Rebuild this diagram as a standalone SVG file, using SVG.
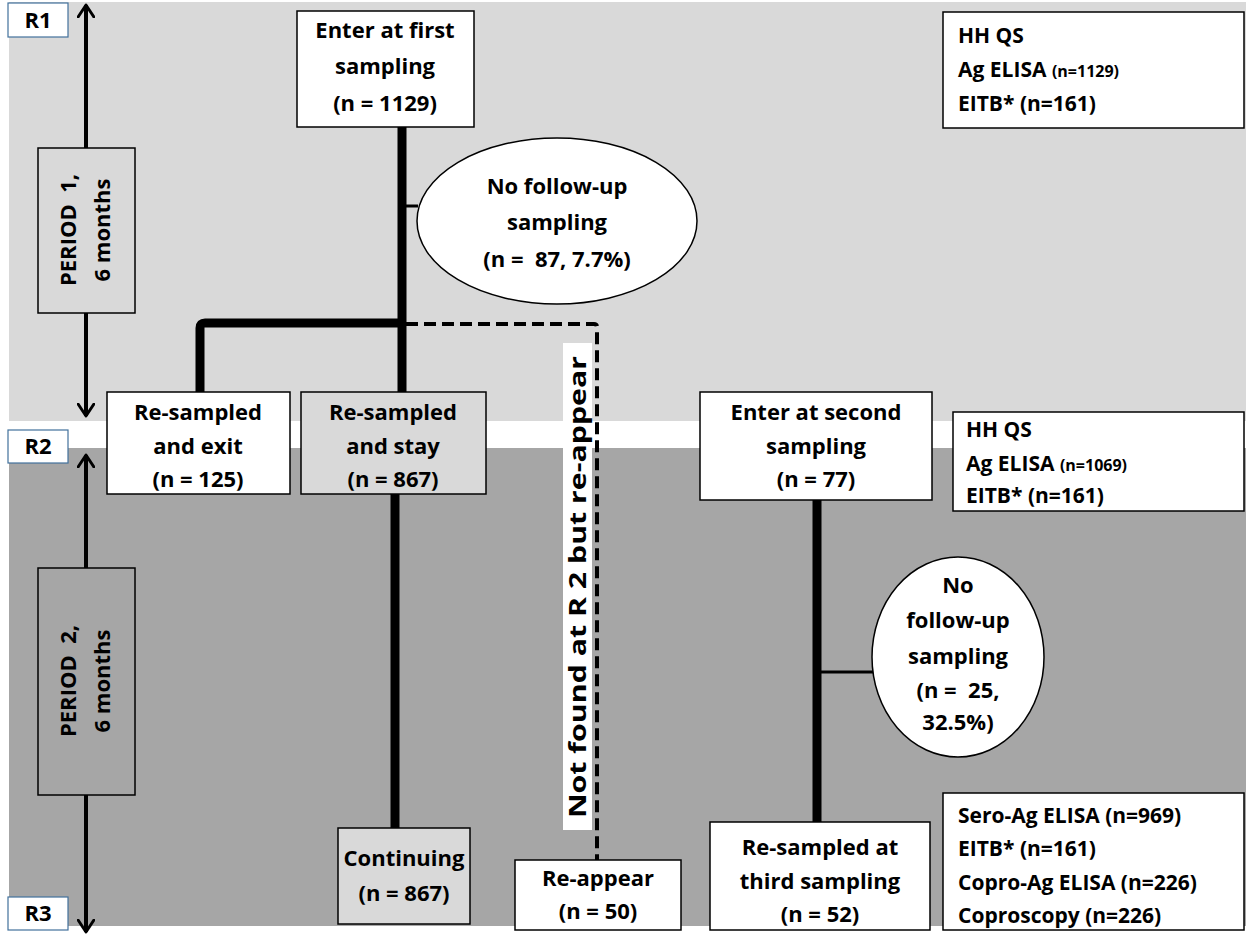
<svg xmlns="http://www.w3.org/2000/svg" width="1250" height="936" viewBox="0 0 1250 936">
<defs>
<marker id="chev" viewBox="0 0 12 14" refX="10" refY="7" markerWidth="4" markerHeight="4.6" orient="auto-start-reverse" markerUnits="strokeWidth">
<path d="M1,1 L10,7 L1,13" fill="none" stroke="#000" stroke-width="2.2" stroke-linecap="round" stroke-linejoin="round"/>
</marker>
</defs>
<style>
text{font-family:"Open Sans","Liberation Sans",sans-serif;font-weight:bold;fill:#000;}
.n{font-size:22px;text-anchor:middle;}
.i{font-size:21px;}
.s{font-size:16px;}
.box{stroke:#000;stroke-width:1.5;}
.w{fill:#fff;}
.lg{fill:#d9d9d9;}
.dg{fill:#a6a6a6;}
.rb{fill:#fff;stroke:#41719c;stroke-width:1.2;}
.thick{stroke:#000;stroke-width:9;fill:none;}
.thin{stroke:#000;stroke-width:3;fill:none;}
.ax{stroke:#000;stroke-width:4;fill:none;}
</style>
<rect x="0" y="0" width="1250" height="936" fill="#fff"/>
<rect x="9" y="2" width="1237" height="419" fill="#d9d9d9"/>
<rect x="9" y="448" width="1237" height="478" fill="#a6a6a6"/>

<g id="connectors">
<line class="ax" x1="86" y1="5" x2="86" y2="416" marker-start="url(#chev)" marker-end="url(#chev)"/>
<line class="ax" x1="86" y1="455" x2="86" y2="932" marker-start="url(#chev)" marker-end="url(#chev)"/>
<line class="thick" x1="402" y1="127" x2="402" y2="392"/>
<line class="thin" x1="402" y1="206" x2="418" y2="206"/>
<path class="thick" d="M200,392 V328 Q200,323 205,323 H406"/>
<path d="M406,324 H594 Q597,324 597,327 V860" fill="none" stroke="#000" stroke-width="4" stroke-dasharray="12,6"/>
<line class="thick" x1="395" y1="494" x2="395" y2="828"/>
<line class="thick" x1="817" y1="500" x2="817" y2="822"/>
<line class="thin" x1="817" y1="672" x2="874" y2="672"/>
</g>

<g id="R1"><rect class="rb" x="8" y="3" width="60" height="34"/><text x="38" y="28" class="n">R1</text></g>
<g id="R2"><rect class="rb" x="8" y="430" width="60" height="33"/><text x="38" y="454" class="n">R2</text></g>
<g id="R3"><rect class="rb" x="8" y="897" width="60" height="33"/><text x="38" y="921" class="n">R3</text></g>

<g id="period1"><rect class="box lg" x="38" y="148" width="97" height="165"/>
<text class="n" transform="translate(76,230) rotate(-90)" x="0" y="0" xml:space="preserve">PERIOD  1,</text>
<text class="n" transform="translate(110,230) rotate(-90)" x="0" y="0">6 months</text></g>

<g id="period2"><rect class="box dg" x="38" y="568" width="97" height="227"/>
<text class="n" transform="translate(76,681) rotate(-90)" x="0" y="0" xml:space="preserve">PERIOD  2,</text>
<text class="n" transform="translate(110,681) rotate(-90)" x="0" y="0">6 months</text></g>

<g id="enter1"><rect class="box w" x="297" y="11" width="177" height="116"/>
<text class="n" x="385" y="38">Enter at first</text>
<text class="n" x="385" y="74">sampling</text>
<text class="n" x="385" y="111">(n = 1129)</text></g>

<g id="nofollow1"><ellipse cx="557" cy="221" rx="140" ry="83" fill="#fff" stroke="#000" stroke-width="1.5"/>
<text class="n" x="557" y="194">No follow-up</text>
<text class="n" x="557" y="230">sampling</text>
<text class="n" x="557" y="267" xml:space="preserve">(n =  87, 7.7%)</text></g>

<g id="exit"><rect class="box w" x="107" y="392" width="183" height="102"/>
<text class="n" x="198" y="420">Re-sampled</text>
<text class="n" x="198" y="454">and exit</text>
<text class="n" x="198" y="487">(n = 125)</text></g>

<g id="stay"><rect class="box lg" x="301" y="392" width="185" height="102"/>
<text class="n" x="393" y="420">Re-sampled</text>
<text class="n" x="393" y="454">and stay</text>
<text class="n" x="393" y="487">(n = 867)</text></g>

<g id="notfound"><rect x="563" y="343" width="29" height="487" fill="#fff"/>
<text transform="translate(586,587) rotate(-90)" x="0" y="0" font-size="23" text-anchor="middle" textLength="462" lengthAdjust="spacingAndGlyphs">Not found at R 2 but re-appear</text></g>

<g id="continuing"><rect class="box lg" x="338" y="828" width="132" height="96"/>
<text class="n" x="404" y="866">Continuing</text>
<text class="n" x="404" y="901">(n = 867)</text></g>

<g id="reappear"><rect class="box w" x="515" y="860" width="166" height="70"/>
<text class="n" x="598" y="886">Re-appear</text>
<text class="n" x="598" y="919">(n = 50)</text></g>

<g id="enter2"><rect class="box w" x="700" y="392" width="232" height="108"/>
<text class="n" x="816" y="420">Enter at second</text>
<text class="n" x="816" y="454">sampling</text>
<text class="n" x="816" y="487">(n = 77)</text></g>

<g id="nofollow2"><ellipse cx="958" cy="657" rx="86" ry="100" fill="#fff" stroke="#000" stroke-width="1.5"/>
<text class="n" x="958" y="593">No</text>
<text class="n" x="958" y="628">follow-up</text>
<text class="n" x="958" y="664">sampling</text>
<text class="n" x="958" y="698" xml:space="preserve">(n =  25,</text>
<text class="n" x="958" y="730">32.5%)</text></g>

<g id="third"><rect class="box w" x="710" y="822" width="220" height="108"/>
<text class="n" x="820" y="855">Re-sampled at</text>
<text class="n" x="820" y="889">third sampling</text>
<text class="n" x="820" y="922">(n = 52)</text></g>

<g id="info1"><rect class="box w" x="943" y="12" width="301" height="116"/>
<text class="i" x="958" y="43">HH QS</text>
<text class="i" x="958" y="77">Ag ELISA <tspan class="s">(n=1129)</tspan></text>
<text class="i" x="958" y="111">EITB* (n=161)</text></g>

<g id="info2"><rect class="box w" x="953" y="412" width="291" height="99"/>
<text class="i" x="966" y="437">HH QS</text>
<text class="i" x="966" y="471">Ag ELISA <tspan class="s">(n=1069)</tspan></text>
<text class="i" x="966" y="503">EITB* (n=161)</text></g>

<g id="info3"><rect class="box w" x="943" y="793" width="301" height="137"/>
<text class="i" x="958" y="823">Sero-Ag ELISA (n=969)</text>
<text class="i" x="958" y="856">EITB* (n=161)</text>
<text class="i" x="958" y="890">Copro-Ag ELISA (n=226)</text>
<text class="i" x="958" y="923">Coproscopy (n=226)</text></g>
</svg>
